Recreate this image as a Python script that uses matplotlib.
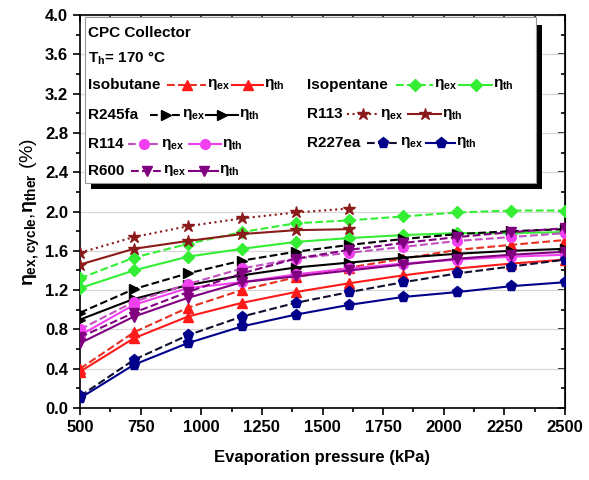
import numpy as np
import matplotlib
matplotlib.use('Agg')
import matplotlib.pyplot as plt
from matplotlib.patches import Rectangle
from matplotlib.lines import Line2D

plt.rcParams['font.family'] = ['Liberation Sans', 'DejaVu Sans']
plt.rcParams['font.weight'] = 'bold'
plt.rcParams['mathtext.fontset'] = 'custom'
plt.rcParams['mathtext.rm'] = 'Liberation Sans:bold'
plt.rcParams['mathtext.it'] = 'Liberation Sans:bold'
plt.rcParams['mathtext.bf'] = 'Liberation Sans:bold'

# evaporation pressure (kPa)
pressure = [500, 722, 944, 1167, 1389, 1611, 1833, 2056, 2278, 2500]

isobutane_ex = [0.40, 0.77, 1.02, 1.20, 1.33, 1.43, 1.52, 1.61, 1.66, 1.71]
isobutane_th = [0.37, 0.71, 0.93, 1.07, 1.18, 1.27, 1.35, 1.42, 1.47, 1.51]
isopentane_ex = [1.32, 1.53, 1.67, 1.79, 1.88, 1.91, 1.95, 1.99, 2.01, 2.01]
isopentane_th = [1.22, 1.40, 1.54, 1.62, 1.69, 1.73, 1.76, 1.78, 1.78, 1.79]
r245fa_ex = [0.97, 1.21, 1.37, 1.50, 1.59, 1.66, 1.72, 1.77, 1.80, 1.82]
r245fa_th = [0.90, 1.11, 1.25, 1.35, 1.43, 1.48, 1.53, 1.57, 1.60, 1.62]
r113_ex = [1.58, 1.74, 1.85, 1.93, 1.99, 2.03]
r113_th = [1.46, 1.62, 1.70, 1.77, 1.81, 1.82]
r114_ex = [0.80, 1.08, 1.26, 1.42, 1.52, 1.58, 1.64, 1.70, 1.74, 1.78]
r114_th = [0.74, 1.05, 1.22, 1.28, 1.36, 1.42, 1.47, 1.51, 1.54, 1.56]
r227ea_ex = [0.12, 0.49, 0.74, 0.93, 1.07, 1.18, 1.28, 1.37, 1.44, 1.51]
r227ea_th = [0.10, 0.44, 0.66, 0.83, 0.95, 1.05, 1.13, 1.18, 1.24, 1.28]
r600_ex = [0.72, 0.97, 1.18, 1.37, 1.52, 1.61, 1.68, 1.74, 1.79, 1.83]
r600_th = [0.66, 0.93, 1.12, 1.28, 1.34, 1.40, 1.46, 1.52, 1.56, 1.59]

# name, ex, th, colour, ex line colour, marker, ex linestyle
series = [
    ('Isobutane', isobutane_ex, isobutane_th, '#ff1a1a', '#e83020', '^', '--'),
    ('Isopentane', isopentane_ex, isopentane_th, '#33ee33', '#33ee33', 'D', '--'),
    ('R245fa', r245fa_ex, r245fa_th, 'black', 'black', '>', '--'),
    ('R113', r113_ex, r113_th, '#8b1a1a', '#8b1a1a', '*', ':'),
    ('R114', r114_ex, r114_th, '#f040f0', '#c050c0', 'o', '--'),
    ('R227ea', r227ea_ex, r227ea_th, '#00008b', '#101030', 'p', '--'),
    ('R600', r600_ex, r600_th, '#800080', '#800080', 'v', '--'),
]
msize = {'^': 7, 'D': 6, '>': 7, '*': 9, 'o': 7, 'p': 8, 'v': 7}

fig = plt.figure(figsize=(5.89, 4.80), dpi=100)
ax = fig.add_axes([80 / 589, 72 / 480, 485 / 589, 393 / 480])

for name, ex, th, c, lc, m, ls in series:
    x = pressure[:len(ex)]
    ax.plot(x, ex, ls=ls, color=lc, lw=1.5, marker=m, ms=msize[m],
            mfc=c, mec=c, zorder=3)
    ax.plot(pressure[:len(th)], th, ls='-', color=c, lw=1.5, marker=m,
            ms=msize[m], mfc=c, mec=c, zorder=3)

xmaj = np.arange(500, 2501, 250)
xmin = np.arange(500, 2501, 125)
ymaj = np.arange(0, 4.01, 0.4)
ymin = np.arange(0, 4.01, 0.2)

ax.set_xlim(500, 2500)
ax.set_ylim(0, 4.0)
ax.set_xticks(xmaj)
ax.set_xticks(xmin, minor=True)
ax.set_yticks(ymaj)
ax.set_yticks(ymin, minor=True)
ax.set_yticklabels(['%.1f' % v for v in ymaj])
ax.yaxis.grid(True, color='#d8d8d8', lw=0.9)
ax.set_axisbelow(True)
ax.tick_params(which='both', direction='out', labelsize=12, width=1.2)
ax.tick_params(which='major', length=5)
ax.tick_params(which='minor', length=3)
for sp in ax.spines.values():
    sp.set_linewidth(1.2)

# top / right ticks point inward
top = ax.secondary_xaxis('top')
top.set_xticks(xmaj)
top.set_xticks(xmin, minor=True)
right = ax.secondary_yaxis('right')
right.set_yticks(ymaj)
right.set_yticks(ymin, minor=True)
for sec in (top, right):
    sec.tick_params(which='both', direction='in', width=1.2,
                    labeltop=False, labelright=False)
    sec.tick_params(which='major', length=5)
    sec.tick_params(which='minor', length=3)
top.set_xticklabels([])
right.set_yticklabels([])

ax.set_xlabel('Evaporation pressure (kPa)', fontsize=12, fontweight='bold', labelpad=11)
ax.set_ylabel(r'$\eta_{ex,cycle}$,$\eta_{ther}$ (%)', fontsize=14, labelpad=2)

# legend box with shadow (pixel coords -> axes fraction)
def fx(px):
    return (px - 80) / 485

def fy(py):
    return (408 - py) / 393

ax.add_patch(Rectangle((fx(91), fy(189)), fx(542) - fx(91), fy(25) - fy(189),
                       transform=ax.transAxes, facecolor='black', edgecolor='none', zorder=5))
ax.add_patch(Rectangle((fx(85), fy(183)), fx(536) - fx(85), fy(17) - fy(183),
                       transform=ax.transAxes, facecolor='white', edgecolor='#999999',
                       lw=0.8, zorder=6))

tkw = dict(transform=ax.transAxes, fontsize=11, fontweight='bold', va='center',
           ha='left', zorder=7)
ax.text(fx(88), fy(33), 'CPC Collector', **tkw)
ax.text(fx(88), fy(58), r'T$_\mathregular{h}$= 170 °C', **tkw)

# legend rows: x, y, name end, ex sample end, eta_ex end, th sample end
rows = [
    (88, 85, 167, 206, 232, 263),
    (307, 85, 396, 433, 459, 492),
    (88, 115, 150, 181, 206, 238),
    (307, 114, 347, 379, 408, 441),
    (88, 144, 128, 160, 189, 221),
    (307, 143, 367, 399, 426, 455),
    (88, 171, 131, 162, 189, 218),
]
for (name, ex, th, c, lc, m, ls), (x0, y0, x1, x2, x3, x4) in zip(series, rows):
    ax.text(fx(x0), fy(y0), name, **tkw)
    ax.add_line(Line2D([fx(x1), fx(x2)], [fy(y0), fy(y0)], ls=ls, color=lc, lw=1.5,
                       transform=ax.transAxes, zorder=7))
    ax.add_line(Line2D([fx((x1 + x2) / 2)], [fy(y0)], marker=m, ms=msize[m], color=c,
                       transform=ax.transAxes, zorder=7))
    ax.text(fx(x2 + 1), fy(y0), r'$\eta_{ex}$', **tkw)
    ax.add_line(Line2D([fx(x3), fx(x4)], [fy(y0), fy(y0)], ls='-', color=c, lw=1.5,
                       transform=ax.transAxes, zorder=7))
    ax.add_line(Line2D([fx((x3 + x4) / 2)], [fy(y0)], marker=m, ms=msize[m], color=c,
                       transform=ax.transAxes, zorder=7))
    ax.text(fx(x4 + 1), fy(y0), r'$\eta_{th}$', **tkw)

fig.savefig('out.png', dpi=100)
